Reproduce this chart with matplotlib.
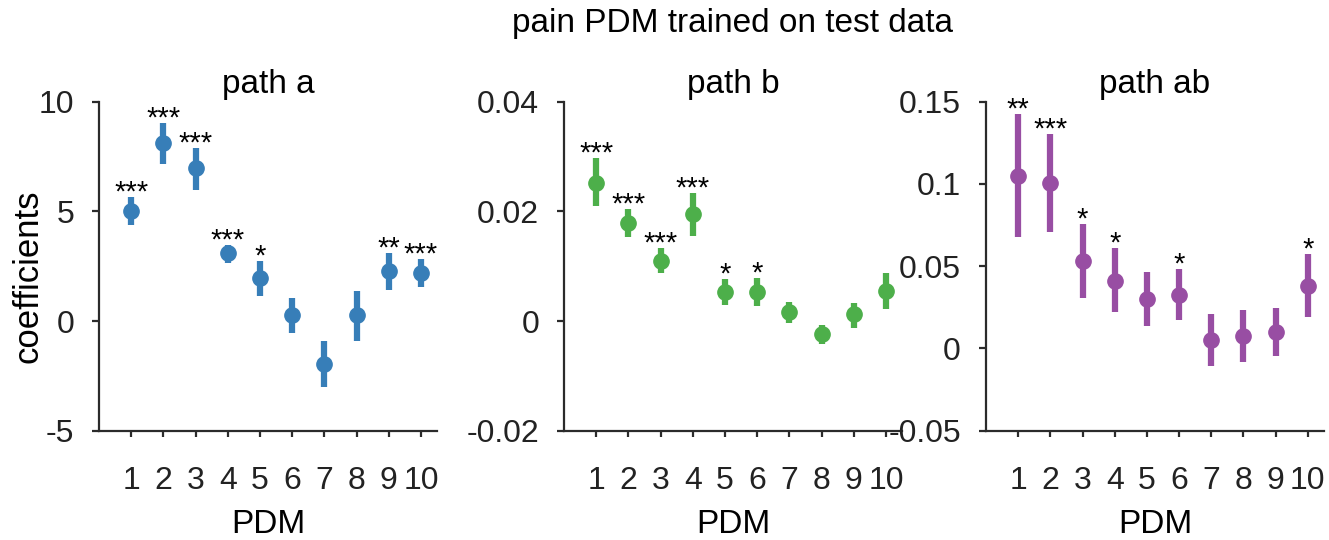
import numpy as np
import matplotlib.pyplot as plt

plt.rcParams['font.family'] = ['Liberation Sans', 'DejaVu Sans']
plt.rcParams['axes.unicode_minus'] = False

pdm = np.arange(1, 11)

# path a coefficients with lower / upper interval bounds
a_coef = [5.02, 8.13, 6.96, 3.12, 1.95, 0.26, -1.95, 0.26, 2.26, 2.17]
a_low = [4.38, 7.16, 5.97, 2.66, 1.14, -0.53, -2.99, -0.90, 1.41, 1.57]
a_high = [5.64, 9.04, 7.90, 3.46, 2.74, 1.03, -0.91, 1.38, 3.08, 2.81]
a_sig = ['***', '***', '***', '***', '*', '', '', '', '**', '***']

# path b
b_coef = [0.0252, 0.0178, 0.0109, 0.0195, 0.0053, 0.0053, 0.0016, -0.0024, 0.0012, 0.0055]
b_low = [0.0209, 0.0154, 0.0087, 0.0155, 0.0030, 0.0027, -0.0004, -0.0041, -0.0012, 0.0022]
b_high = [0.0298, 0.0204, 0.0133, 0.0233, 0.0077, 0.0078, 0.0035, -0.0007, 0.0033, 0.0087]
b_sig = ['***', '***', '***', '***', '*', '*', '', '', '', '']

# path ab
ab_coef = [0.1048, 0.1004, 0.0531, 0.0412, 0.0300, 0.0325, 0.0051, 0.0075, 0.0102, 0.0381]
ab_low = [0.0675, 0.0710, 0.0304, 0.0219, 0.0138, 0.0173, -0.0105, -0.0081, -0.0046, 0.0189]
ab_high = [0.1425, 0.1303, 0.0754, 0.0612, 0.0462, 0.0483, 0.0207, 0.0234, 0.0248, 0.0572]
ab_sig = ['**', '***', '*', '*', '', '*', '', '', '', '*']

panels = [
    ('path a', a_coef, a_low, a_high, a_sig, '#377eb8', (-5, 10), 5),
    ('path b', b_coef, b_low, b_high, b_sig, '#4daf4a', (-0.02, 0.04), 0.02),
    ('path ab', ab_coef, ab_low, ab_high, ab_sig, '#984ea3', (-0.05, 0.15), 0.05),
]

fig = plt.figure(figsize=(13.29, 5.4), dpi=100)
lefts = [0.0745, 0.4244, 0.7419]
axes = [fig.add_axes([l, 0.2024, 0.2543, 0.6093]) for l in lefts]

for ax, (title, coef, low, high, sig, color, ylim, step) in zip(axes, panels):
    coef = np.array(coef)
    yerr = [coef - np.array(low), np.array(high) - coef]
    ax.errorbar(pdm, coef, yerr=yerr, fmt='o', color=color, ms=11,
                elinewidth=4.5, capsize=0, zorder=3)
    # significance stars just above each interval
    for x, top, s in zip(pdm, high, sig):
        if s:
            ax.annotate(s, (x, top), xytext=(0, -2.5), textcoords='offset points',
                        ha='center', va='baseline', fontsize=21)
    ax.set_xlim(0, 10.5)
    ax.set_ylim(*ylim)
    ax.set_xticks(pdm)
    ax.set_yticks(np.arange(ylim[0], ylim[1] + step / 2, step))
    ax.set_yticklabels(['%g' % round(v, 4) for v in ax.get_yticks()])
    for side in ('top', 'right'):
        ax.spines[side].set_visible(False)
    for side in ('left', 'bottom'):
        ax.spines[side].set_linewidth(1.6)
        ax.spines[side].set_color('#2b2b2b')
    ax.tick_params(axis='x', direction='out', length=4.5, width=1.6,
                   color='#2b2b2b', labelsize=23, pad=21, labelcolor='#222222')
    ax.tick_params(axis='y', direction='out', length=5, width=1.6,
                   color='#2b2b2b', labelsize=23, pad=13, labelcolor='#222222')
    ax.set_title(title, fontsize=24, pad=6)
    ax.set_xlabel('PDM', fontsize=24)
    ax.xaxis.set_label_coords(0.5, -0.285)
    ax.xaxis.label.set_va('center')

axes[0].set_ylabel('coefficients', fontsize=25)
axes[0].yaxis.set_label_coords(-0.21, 0.47)
axes[0].yaxis.label.set_va('center')

fig.text(0.5515, 0.9407, 'pain PDM trained on test data', ha='center',
         va='baseline', fontsize=24)

fig.savefig('out.png', dpi=100)
